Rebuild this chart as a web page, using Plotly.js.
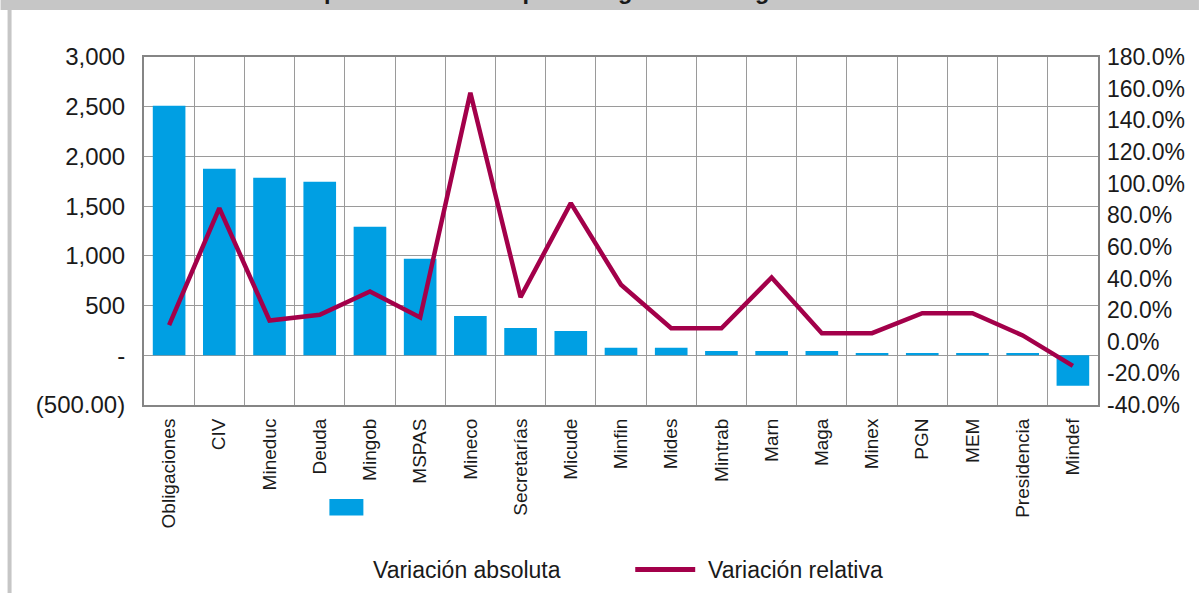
<!DOCTYPE html>
<html>
<head>
<meta charset="utf-8">
<script src="https://cdn.plot.ly/plotly-3.0.1.min.js"></script>
<style>
html,body{margin:0;padding:0;background:#fff;}
#chart{width:1199px;height:593px;}
</style>
</head>
<body>
<div id="chart"></div>
<script>
// ---- data ----
const categories = ["Obligaciones","CIV","Mineduc","Deuda","Mingob","MSPAS","Mineco","Secretarías","Micude","Minfin","Mides","Mintrab","Marn","Maga","Minex","PGN","MEM","Presidencia","Mindef"];
const variacionAbsoluta = [2510, 1875, 1785, 1745, 1292, 970, 396, 275, 245, 77, 77, 43, 43, 43, 23, 23, 23, 23, -306];
const variacionRelativa = [10.5, 84.5, 13.4, 17, 31.7, 15.3, 157.4, 28.2, 87.6, 36, 8.5, 8.5, 40.6, 5.4, 5.4, 18, 18, 4, -15.3];
const leftTickVals = [-500, 0, 500, 1000, 1500, 2000, 2500, 3000];
const leftTickText = ["(500.00)", "-", "500", "1,000", "1,500", "2,000", "2,500", "3,000"];
const rightTickVals = [-40, -20, 0, 20, 40, 60, 80, 100, 120, 140, 160, 180];
const rightTickText = rightTickVals.map(v => v.toFixed(1) + "%");
const titleText = "para 2017 con respecto al gasto devengado en 2016";
const legendBar = "Variación absoluta";
const legendLine = "Variación relativa";

// ---- layout helpers (pixel -> paper) ----
const W = 1199, H = 593;
const M = {l: 143.5, r: 101, t: 57, b: 188};
const pw = W - M.l - M.r, ph = H - M.t - M.b;
const px = x => (x - M.l) / pw;
const py = y => (H - M.b - y) / ph;

const FONT = '"Liberation Sans", Arial, Helvetica, sans-serif';
const BLUE = '#009FE3';
const RED = '#A3004A';
const GRID = '#9a9a9a';
const FRAME = '#858585';

const traces = [
  {type: 'bar', x: categories, y: variacionAbsoluta, marker: {color: BLUE}, name: legendBar, showlegend: false, hoverinfo: 'x+y'},
  {type: 'scatter', mode: 'lines', x: categories, y: variacionRelativa, yaxis: 'y2', line: {color: RED, width: 4.5}, name: legendLine, showlegend: false}
];

const layout = {
  width: W, height: H,
  margin: M,
  paper_bgcolor: '#fff', plot_bgcolor: '#fff',
  font: {family: FONT, color: '#1a1a1a'},
  bargap: 0.35,
  xaxis: {
    type: 'category', tickson: 'boundaries', showgrid: true, gridcolor: GRID, gridwidth: 1,
    ticks: '', tickangle: -90, tickfont: {size: 19, family: FONT, color: '#1a1a1a'},
    showline: true, mirror: true, linecolor: FRAME, linewidth: 2, ticklabelstandoff: 4,
    range: [-0.5, categories.length - 0.5]
  },
  yaxis: {
    range: [-500, 3000], tickmode: 'array', tickvals: leftTickVals, ticktext: leftTickText,
    showgrid: true, gridcolor: GRID, gridwidth: 1, zeroline: false,
    showline: true, mirror: true, linecolor: FRAME, linewidth: 2, ticks: '',
    tickfont: {size: 24, family: FONT, color: '#1a1a1a'}, ticklabelstandoff: 12
  },
  yaxis2: {
    overlaying: 'y', side: 'right', range: [-40, 180], tickmode: 'array',
    tickvals: rightTickVals, ticktext: rightTickText, showgrid: false, zeroline: false,
    showline: false, ticks: '', tickfont: {size: 23, family: FONT, color: '#1a1a1a'}, ticklabelstandoff: 8
  },
  shapes: [
    {type: 'rect', xref: 'paper', yref: 'paper', x0: px(0), x1: px(W), y0: py(10), y1: py(-2), fillcolor: '#c6c6c6', line: {width: 0}, layer: 'below'},
    {type: 'rect', xref: 'paper', yref: 'paper', x0: px(7), x1: px(11), y0: py(H + 2), y1: py(10), fillcolor: '#c6c6c6', line: {width: 0}, layer: 'below'},
    {type: 'rect', xref: 'paper', yref: 'paper', x0: px(329), x1: px(363), y0: py(515.5), y1: py(499), fillcolor: BLUE, line: {width: 0}},
    {type: 'line', xref: 'paper', yref: 'paper', x0: px(635), x1: px(695), y0: py(569.5), y1: py(569.5), line: {color: RED, width: 5}}
  ],
  annotations: [
    {xref: 'paper', yref: 'paper', x: px(614), y: py(6), xanchor: 'center', yanchor: 'bottom', showarrow: false,
     text: '<b>' + titleText + '</b>', font: {size: 23.5, family: FONT, color: '#1a1a1a'}},
    {xref: 'paper', yref: 'paper', x: px(371), y: py(570), xanchor: 'left', yanchor: 'middle', showarrow: false,
     text: legendBar, font: {size: 23, family: FONT, color: '#1a1a1a'}},
    {xref: 'paper', yref: 'paper', x: px(706), y: py(570), xanchor: 'left', yanchor: 'middle', showarrow: false,
     text: legendLine, font: {size: 23, family: FONT, color: '#1a1a1a'}}
  ]
};

Plotly.newPlot('chart', traces, layout, {displayModeBar: false, staticPlot: true});
</script>
</body>
</html>
